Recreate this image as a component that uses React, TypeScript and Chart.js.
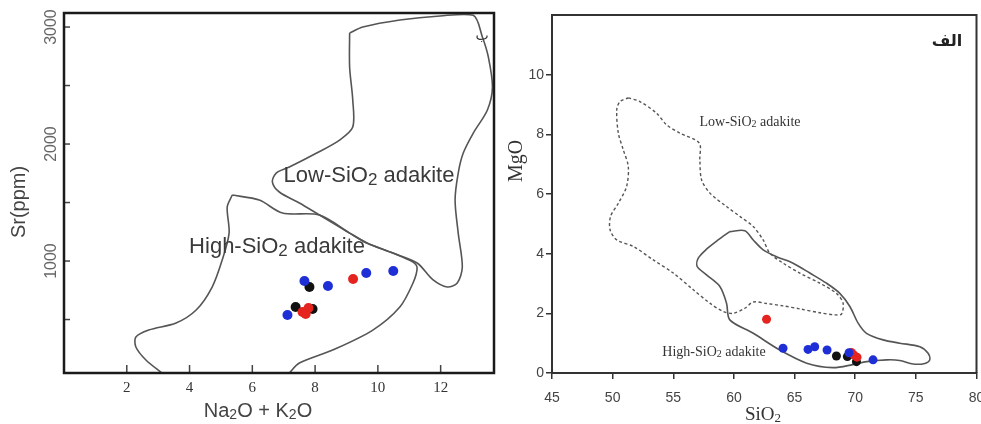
import React, { useEffect, useRef } from 'react';
import { Chart, registerables } from 'chart.js';
Chart.register(...registerables);

// ---------- Left panel: Sr (ppm) vs Na2O + K2O ----------
const srXTicks = [2, 4, 6, 8, 10, 12];
const srYTicks = [500, 1000, 1500, 2000, 2500, 3000];
const srYLabels = ['', '1000', '', '2000', '', '3000'];

const srBlueX = [7.12, 7.66, 8.41, 9.63, 10.49];
const srBlueY = [538, 829, 786, 897, 915];
const srRedX = [9.21, 7.6, 7.79, 7.7];
const srRedY = [846, 564, 598, 547];
const srBlackX = [7.82, 7.38, 7.92];
const srBlackY = [778, 607, 590];

const lowSrX = [9.1, 9.52, 10.7, 11.98, 13.04, 13.33, 13.52, 13.65, 13.49, 13.04, 12.72, 12.56, 12.46, 12.56, 12.69, 12.53, 12.21, 11.76, 11.25, 10.48, 9.65, 9.1, 8.14, 7.5, 6.86, 6.64, 6.76, 7.18, 8.05, 8.78, 9.2, 9.2, 9.1, 9.1];
const lowSrY = [2949, 3000, 3060, 3095, 3100, 2915, 2744, 2487, 2291, 2094, 1923, 1752, 1521, 1239, 949, 812, 778, 838, 983, 1068, 1154, 1239, 1393, 1496, 1590, 1675, 1752, 1803, 1923, 2034, 2145, 2376, 2658, 2949];

const highSrX = [5.36, 6.22, 6.96, 8.14, 9.1, 9.65, 10.48, 11.12, 11.25, 11.12, 10.7, 9.84, 8.56, 7.5, 7.18, 6.5, 4.0, 3.12, 2.61, 2.29, 2.29, 2.7, 3.57, 4.21, 4.72, 5.04, 5.26, 5.2, 5.36];
const highSrY = [1564, 1521, 1410, 1393, 1239, 1154, 1068, 991, 940, 812, 607, 410, 239, 128, 43, -150, -150, 43, 154, 265, 350, 410, 470, 581, 778, 1009, 1239, 1462, 1564];

// ---------- Right panel: MgO vs SiO2 ----------
const mgXTicks = [45, 50, 55, 60, 65, 70, 75, 80];
const mgYTicks = [0, 2, 4, 6, 8, 10];

const mgBlueX = [64.05, 66.11, 66.66, 67.68, 69.49, 71.47];
const mgBlueY = [0.83, 0.79, 0.88, 0.77, 0.68, 0.44];
const mgRedX = [62.69, 69.68, 70.15, 69.9];
const mgRedY = [1.8, 0.69, 0.53, 0.6];
const mgBlackX = [68.45, 69.35, 70.1];
const mgBlackY = [0.57, 0.55, 0.38];

const lowMgX = [51.29, 52.25, 53.62, 54.44, 55.54, 57.14, 57.19, 57.33, 58.02, 59.39, 60.49, 61.59, 62.41, 62.96, 64.06, 65.43, 67.08, 68.45, 69.0, 68.86, 68.31, 67.08, 65.43, 64.06, 62.69, 61.59, 60.9, 59.94, 59.12, 58.02, 56.65, 55.0, 53.35, 51.71, 50.34, 49.79, 49.83, 50.47, 51.15, 51.29, 50.88, 50.47, 50.34, 50.61, 51.29];
const lowMgY = [9.22, 9.1, 8.71, 8.32, 8.04, 7.71, 7.15, 6.48, 6.03, 5.58, 5.25, 4.91, 4.46, 4.02, 3.68, 3.35, 3.01, 2.67, 2.34, 1.97, 1.95, 2.02, 2.15, 2.25, 2.33, 2.38, 2.17, 2.0, 2.06, 2.34, 2.79, 3.35, 3.79, 4.24, 4.46, 4.8, 5.25, 5.69, 6.25, 6.92, 7.48, 8.04, 8.83, 9.1, 9.22];

const highMgX = [59.66, 60.9, 61.59, 62.41, 63.51, 64.88, 66.26, 67.63, 68.73, 69.56, 70.24, 70.93, 72.3, 73.68, 75.33, 76.01, 76.15, 75.74, 74.78, 73.67, 72.6, 70.95, 69.79, 68.15, 66.0, 63.78, 61.56, 59.66, 59.39, 58.84, 57.74, 56.97, 57.06, 57.74, 58.7, 59.66];
const highMgY = [4.74, 4.77, 4.46, 4.13, 3.9, 3.68, 3.35, 3.01, 2.67, 2.23, 1.67, 1.33, 1.11, 1.0, 0.88, 0.66, 0.44, 0.32, 0.3, 0.42, 0.44, 0.38, 0.28, 0.18, 0.33, 0.77, 1.34, 1.78, 2.34, 2.9, 3.29, 3.57, 3.85, 4.15, 4.46, 4.74];

const SANS = "'Liberation Sans', Arial, sans-serif";
const SERIF = "'Liberation Serif', 'Times New Roman', serif";
const BLUE = '#1f2fd6';
const RED = '#e5231f';
const BLACK = '#111111';

const zip = (xs: number[], ys: number[]) => xs.map((x, i) => ({ x, y: ys[i] }));

type Part = [string, boolean];
function drawRich(ctx: CanvasRenderingContext2D, x: number, y: number, parts: Part[], size: number, family: string, color: string, subScale = 0.68, weight = 'normal') {
  ctx.save();
  ctx.fillStyle = color;
  ctx.textBaseline = 'middle';
  ctx.textAlign = 'left';
  const fonts = parts.map(([, sub]) => `${weight} ${sub ? Math.round(size * subScale) : size}px ${family}`);
  let total = 0;
  const widths = parts.map(([t], i) => {
    ctx.font = fonts[i];
    const w = ctx.measureText(t).width;
    total += w;
    return w;
  });
  let cx = x - total / 2;
  parts.forEach(([t, sub], i) => {
    ctx.font = fonts[i];
    ctx.fillText(t, cx, sub ? y + size * 0.2 : y);
    cx += widths[i];
  });
  ctx.restore();
}
function drawRotated(ctx: CanvasRenderingContext2D, x: number, y: number, parts: Part[], size: number, family: string, color: string) {
  ctx.save();
  ctx.translate(x, y);
  ctx.rotate(-Math.PI / 2);
  drawRich(ctx, 0, 0, parts, size, family, color);
  ctx.restore();
}

const pointSet = (xs: number[], ys: number[], color: string, r: number) => ({
  data: zip(xs, ys),
  backgroundColor: color,
  borderColor: color,
  borderWidth: 0,
  pointRadius: r,
  showLine: false,
});
const lineSet = (xs: number[], ys: number[], color: string, width: number, dash: number[] = []) => ({
  data: zip(xs, ys),
  borderColor: color,
  backgroundColor: color,
  borderWidth: width,
  borderDash: dash,
  pointRadius: 0,
  showLine: true,
  tension: 0.3,
  fill: false,
});

const fitX = (s: any) => { s.height = 51; s.paddingLeft = 0; s.paddingRight = 0; s.paddingTop = 0; s.paddingBottom = 0; };
const fitY = (w: number) => (s: any) => { s.width = w; s.paddingLeft = 0; s.paddingRight = 0; s.paddingTop = 0; s.paddingBottom = 0; };

const leftDecor = {
  id: 'leftDecor',
  afterDraw(chart: any) {
    const { ctx, chartArea: a, scales } = chart;
    const xs = scales.x, ys = scales.y;
    ctx.save();
    ctx.strokeStyle = '#444';
    ctx.lineWidth = 1.5;
    srXTicks.forEach((v) => {
      const p = xs.getPixelForValue(v);
      ctx.beginPath(); ctx.moveTo(p, a.bottom); ctx.lineTo(p, a.bottom - 8); ctx.stroke();
    });
    srYTicks.forEach((v) => {
      const p = ys.getPixelForValue(v);
      ctx.beginPath(); ctx.moveTo(a.left, p); ctx.lineTo(a.left + 6, p); ctx.stroke();
    });
    ctx.strokeStyle = '#1a1a1a';
    ctx.lineWidth = 2.5;
    ctx.strokeRect(a.left, a.top, a.right - a.left, a.bottom - a.top);
    ctx.restore();
    srYTicks.forEach((v, i) => {
      if (srYLabels[i]) drawRotated(ctx, 52, ys.getPixelForValue(v), [[srYLabels[i], false]], 16, SANS, '#666');
    });
    drawRotated(ctx, 19, 202, [['Sr(ppm)', false]], 20, SANS, '#444');
    drawRich(ctx, 258, 411, [['Na', false], ['2', true], ['O + K', false], ['2', true], ['O', false]], 20, SANS, '#444');
    drawRich(ctx, 369, 176, [['Low-SiO', false], ['2', true], [' adakite', false]], 22, SANS, '#3a3a3a', 0.78);
    drawRich(ctx, 277, 247, [['High-SiO', false], ['2', true], [' adakite', false]], 22, SANS, '#3a3a3a', 0.78);
    ctx.save();
    ctx.fillStyle = '#333';
    ctx.font = "14px 'DejaVu Sans', sans-serif";
    ctx.textAlign = 'center';
    ctx.textBaseline = 'middle';
    ctx.fillText('ب', 482, 36);
    ctx.restore();
  },
};

const rightDecor = {
  id: 'rightDecor',
  afterDraw(chart: any) {
    const { ctx, chartArea: a } = chart;
    ctx.save();
    ctx.strokeStyle = '#333';
    ctx.lineWidth = 2;
    ctx.beginPath();
    ctx.moveTo(a.left, a.top); ctx.lineTo(a.right, a.top); ctx.lineTo(a.right, a.bottom);
    ctx.stroke();
    ctx.restore();
    drawRotated(ctx, 17, 161, [['MgO', false]], 20, SERIF, '#333');
    drawRich(ctx, 263, 415, [['SiO', false], ['2', true]], 19, SERIF, '#333');
    drawRich(ctx, 250, 122, [['Low-SiO', false], ['2', true], [' adakite', false]], 14, SERIF, '#333');
    drawRich(ctx, 214, 352, [['High-SiO', false], ['2', true], [' adakite', false]], 14, SERIF, '#333');
    ctx.save();
    ctx.fillStyle = '#222';
    ctx.font = "bold 16px 'DejaVu Sans', sans-serif";
    ctx.textAlign = 'center';
    ctx.textBaseline = 'middle';
    ctx.fillText('الف', 447, 42);
    ctx.restore();
  },
};

function leftConfig(): any {
  return {
    type: 'scatter',
    data: {
      datasets: [
        pointSet(srBlueX, srBlueY, BLUE, 5),
        pointSet(srRedX, srRedY, RED, 5),
        pointSet(srBlackX, srBlackY, BLACK, 5),
        lineSet(lowSrX, lowSrY, '#555', 1.6),
        lineSet(highSrX, highSrY, '#555', 1.6),
      ],
    },
    options: {
      animation: false,
      responsive: false,
      events: [],
      layout: { padding: { top: 13, right: 6, left: 0, bottom: 0 } },
      plugins: { legend: { display: false }, tooltip: { enabled: false } },
      scales: {
        x: {
          type: 'linear', min: 0, max: 13.7,
          afterFit: fitX,
          afterBuildTicks: (s: any) => { s.ticks = srXTicks.map((v) => ({ value: v })); },
          grid: { display: false, drawTicks: false },
          border: { display: false },
          ticks: { font: { family: SERIF, size: 15 }, color: '#333', padding: 6, maxRotation: 0 },
        },
        y: {
          type: 'linear', min: 43, max: 3120,
          afterFit: fitY(64),
          afterBuildTicks: (s: any) => { s.ticks = srYTicks.map((v) => ({ value: v })); },
          grid: { display: false, drawTicks: false },
          border: { display: false },
          ticks: { display: false },
        },
      },
    },
    plugins: [leftDecor],
  };
}

function rightConfig(): any {
  const grid = { display: true, drawOnChartArea: false, drawTicks: true, tickLength: 6, color: '#333', lineWidth: 1.5 };
  return {
    type: 'scatter',
    data: {
      datasets: [
        pointSet(mgBlueX, mgBlueY, BLUE, 4.5),
        pointSet(mgRedX, mgRedY, RED, 4.5),
        pointSet(mgBlackX, mgBlackY, BLACK, 4.5),
        lineSet(lowMgX, lowMgY, '#555', 1.4, [3, 2.5]),
        lineSet(highMgX, highMgY, '#555', 1.6),
      ],
    },
    options: {
      animation: false,
      responsive: false,
      events: [],
      layout: { padding: { top: 15, right: 4, left: 0, bottom: 0 } },
      plugins: { legend: { display: false }, tooltip: { enabled: false } },
      scales: {
        x: {
          type: 'linear', min: 45, max: 80,
          afterFit: fitX,
          afterBuildTicks: (s: any) => { s.ticks = mgXTicks.map((v) => ({ value: v })); },
          grid,
          border: { display: true, color: '#333', width: 2 },
          ticks: { font: { family: SANS, size: 14 }, color: '#444', padding: 11, maxRotation: 0 },
        },
        y: {
          type: 'linear', min: 0, max: 12,
          afterFit: fitY(52),
          afterBuildTicks: (s: any) => { s.ticks = mgYTicks.map((v) => ({ value: v })); },
          grid,
          border: { display: true, color: '#333', width: 2 },
          ticks: { font: { family: SANS, size: 14 }, color: '#444', padding: 2 },
        },
      },
    },
    plugins: [rightDecor],
  };
}

export default function App() {
  const leftRef = useRef<HTMLCanvasElement>(null);
  const rightRef = useRef<HTMLCanvasElement>(null);
  useEffect(() => {
    const c1 = new Chart(leftRef.current as HTMLCanvasElement, leftConfig());
    const c2 = new Chart(rightRef.current as HTMLCanvasElement, rightConfig());
    return () => {
      c1.destroy();
      c2.destroy();
    };
  }, []);
  return (
    <div style={{ position: 'fixed', left: 0, top: 0, width: 981, height: 424, background: '#fff', overflow: 'hidden' }}>
      <canvas ref={leftRef} width={500} height={424} style={{ position: 'absolute', left: 0, top: 0, width: 500, height: 424 }} />
      <canvas ref={rightRef} width={481} height={424} style={{ position: 'absolute', left: 500, top: 0, width: 481, height: 424 }} />
    </div>
  );
}
